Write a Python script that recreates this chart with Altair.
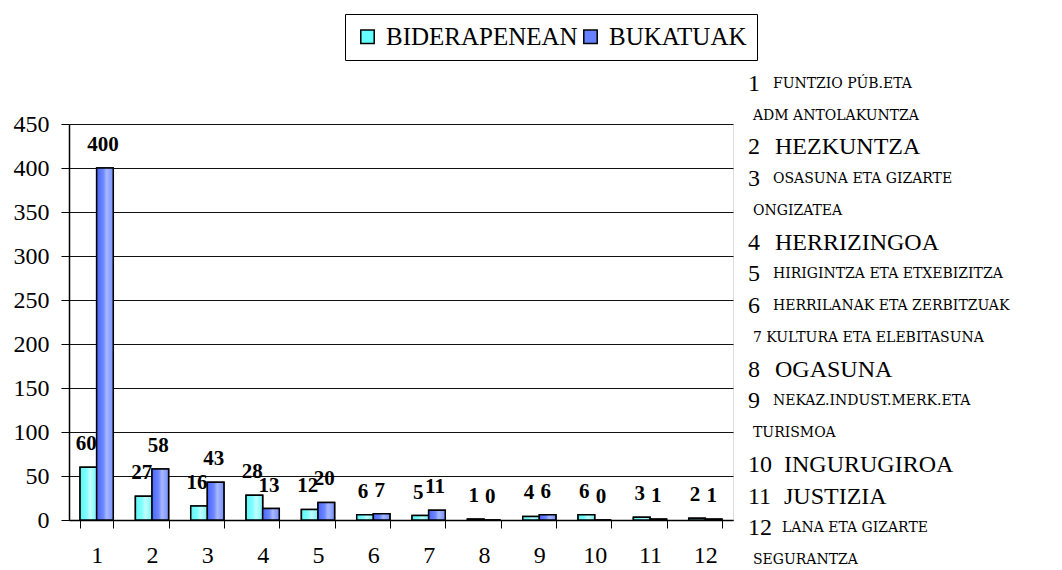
import altair as alt
import pandas as pd

categories = [str(i) for i in range(1, 13)]
series_names = ["BIDERAPENEAN", "BUKATUAK"]
biderapenean = [60, 27, 16, 28, 12, 6, 5, 1, 4, 6, 3, 2]
bukatuak = [400, 58, 43, 13, 20, 7, 11, 0, 6, 0, 1, 1]
y_ticks = [0, 50, 100, 150, 200, 250, 300, 350, 400, 450]

# side notes: number prefix, text, style
note_prefix = ["1", "", "2", "3", "", "4", "5", "6", "", "8", "9", "", "10", "11", "12", ""]
note_text = ["FUNTZIO PÚB.ETA", "ADM ANTOLAKUNTZA", "HEZKUNTZA", "OSASUNA ETA GIZARTE",
             "ONGIZATEA", "HERRIZINGOA", "HIRIGINTZA ETA ETXEBIZITZA",
             "HERRILANAK ETA ZERBITZUAK", "7 KULTURA ETA ELEBITASUNA", "OGASUNA",
             "NEKAZ.INDUST.MERK.ETA", "TURISMOA", "INGURUGIROA", "JUSTIZIA",
             "LANA ETA GIZARTE", "SEGURANTZA"]
note_style = ["small", "small", "large", "small", "small", "large", "small", "small",
              "small", "large", "small", "small", "large", "large", "small", "small"]

rows = []
for i, c in enumerate(categories):
    rows.append({"cat": c, "series": series_names[0], "value": biderapenean[i]})
    rows.append({"cat": c, "series": series_names[1], "value": bukatuak[i]})
df = pd.DataFrame(rows)

notes = pd.DataFrame({
    "row": list(range(len(note_text))),
    "prefix": note_prefix,
    "text": note_text,
    "style": note_style,
})
notes["plen"] = notes["prefix"].str.len()

SERIF = "Times New Roman, Liberation Serif, DejaVu Serif, serif"
SMALL = "DejaVu Serif, Liberation Serif, serif"
W, H = 664, 396

x_enc = alt.X("cat:N", sort=categories,
              scale=alt.Scale(paddingInner=0.4, paddingOuter=0.2),
              axis=alt.Axis(labelAngle=0, tickBand="extent", tickSize=8, tickColor="black",
                            domainColor="black", domainWidth=1.5, labelFont=SERIF,
                            labelFontSize=24, labelColor="black", labelPadding=15,
                            title=None, grid=False))
xo_enc = alt.XOffset("series:N", sort=series_names,
                     scale=alt.Scale(paddingInner=0, paddingOuter=0))
y_enc = alt.Y("value:Q", scale=alt.Scale(domain=[0, 450], nice=False),
              axis=alt.Axis(values=y_ticks, grid=True, gridColor="#111111", gridWidth=1,
                            domainColor="black", domainWidth=1.5, tickColor="black",
                            tickSize=8, labelFont=SERIF, labelFontSize=24,
                            labelColor="black", labelPadding=12, title=None))

base = alt.Chart(df).encode(x=x_enc, xOffset=xo_enc, y=y_enc)

legend_bars = base.mark_bar(stroke="black", strokeWidth=1.5).encode(
    color=alt.Color("series:N", sort=series_names,
                    scale=alt.Scale(domain=series_names, range=["#66FFFF", "#6680FF"]),
                    legend=alt.Legend(orient="none", legendX=276, legendY=-110,
                                      direction="horizontal", title=None,
                                      strokeColor="black", padding=10,
                                      symbolType="square", symbolSize=180,
                                      symbolStrokeColor="black", symbolStrokeWidth=1.5,
                                      symbolOpacity=1, labelLimit=400,
                                      labelFont=SERIF, labelFontSize=25,
                                      labelColor="black", columnPadding=0,
                                      labelOffset=6))
)

grad_cyan = alt.LinearGradient(gradient="linear", x1=0, x2=1, y1=0, y2=0, stops=[
    alt.GradientStop(offset=0, color="#5FF5F5"),
    alt.GradientStop(offset=0.4, color="#80FFFF"),
    alt.GradientStop(offset=0.6, color="#C2FFFF"),
    alt.GradientStop(offset=1, color="#78F2F2")])
grad_blue = alt.LinearGradient(gradient="linear", x1=0, x2=1, y1=0, y2=0, stops=[
    alt.GradientStop(offset=0, color="#4A66FF"),
    alt.GradientStop(offset=0.4, color="#6E88FF"),
    alt.GradientStop(offset=0.6, color="#A8B8FF"),
    alt.GradientStop(offset=1, color="#7590FF")])

bars_c = base.transform_filter(alt.datum.series == series_names[0]).mark_bar(
    fill=grad_cyan, stroke="black", strokeWidth=1.5)
bars_b = base.transform_filter(alt.datum.series == series_names[1]).mark_bar(
    fill=grad_blue, stroke="black", strokeWidth=1.5)

labels = base.mark_text(font=SERIF, fontSize=21, fontWeight="bold", color="black",
                        baseline="alphabetic", dy=-17, dx=-2).encode(
    text=alt.Text("value:Q"))

row_y = alt.Y("row:Q", scale=alt.Scale(domain=[0, 15], range=[-40, 436]), axis=None)
note_layers = []
pref = alt.Chart(notes).transform_filter("datum.plen > 0").mark_text(
    font=SERIF, fontSize=24, align="left", baseline="middle", color="black").encode(
    x=alt.value(679), y=row_y, text="prefix:N")
note_layers.append(pref)
body_x = {0: 684, 1: 704, 2: 713}
for st in ["small", "large"]:
    for pl in [0, 1, 2]:
        sub = notes[(notes["style"] == st) & (notes["plen"] == pl)]
        if len(sub) == 0:
            continue
        if st == "small":
            mk = dict(font=SMALL, fontSize=14)
        else:
            mk = dict(font=SERIF, fontSize=24)
        lay = alt.Chart(notes).transform_filter(
            f"datum.style == '{st}' && datum.plen == {pl}").mark_text(
            align="left", baseline="middle", color="black", **mk).encode(
            x=alt.value(body_x[pl] + (2 if st == "large" else 0)), y=row_y, text="text:N")
        note_layers.append(lay)

main = alt.layer(legend_bars, bars_c, bars_b, labels)
chart = alt.layer(main, *note_layers).resolve_scale(y="independent").properties(
    width=W, height=H,
    autosize=alt.AutoSizeParams(type="none"),
    padding={"left": 61, "top": 116, "right": 321, "bottom": 50},
).configure_view(stroke="black", strokeWidth=1.5).configure(background="white")

chart.save("out.html", embed_options={"renderer": "svg", "actions": False})
